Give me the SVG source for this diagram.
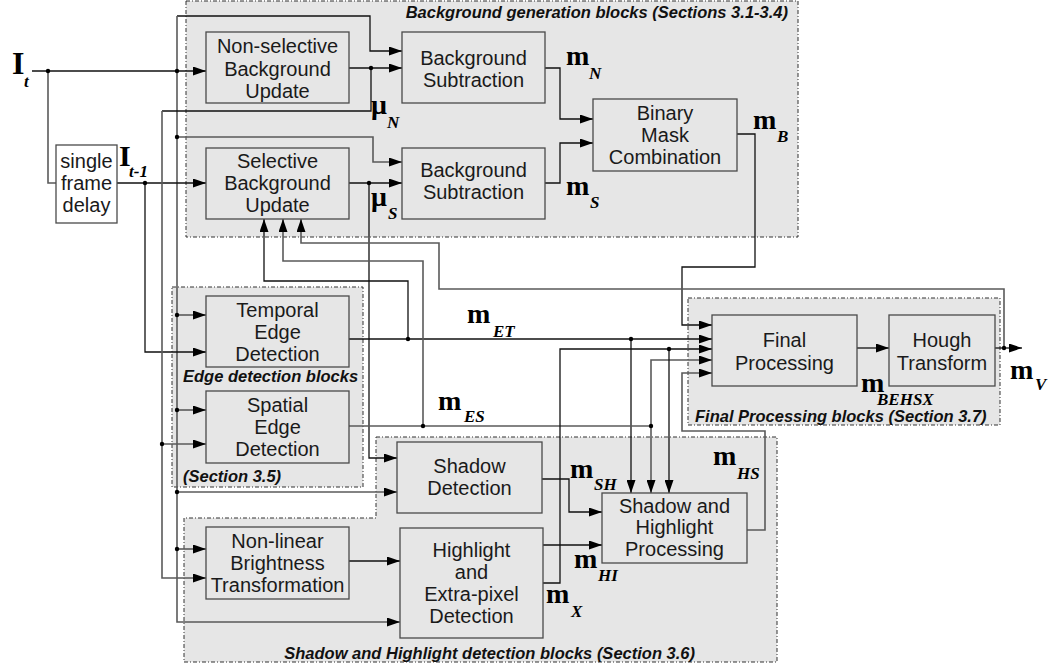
<svg xmlns="http://www.w3.org/2000/svg" width="1061" height="670" viewBox="0 0 1061 670">
<defs>
<marker id="ar" viewBox="0 0 13 9" refX="13" refY="4.5" markerWidth="13" markerHeight="9" markerUnits="userSpaceOnUse" orient="auto">
<path d="M0,0 L13,4.5 L0,9 z" fill="#000"/>
</marker>
<style>
.grp{fill:#e6e6e6;stroke:#333;stroke-width:1;stroke-dasharray:4 2 1 2}
.box{fill:#e6e6e6;stroke:#4a4a4a;stroke-width:1.3}
.lbl{font-family:"Liberation Sans",Arial,sans-serif;font-size:20px;text-anchor:middle;fill:#1a1a1a}
.glbl{font-family:"Liberation Sans",Arial,sans-serif;font-size:16.5px;font-weight:bold;font-style:italic;fill:#111}
.math{font-family:"Liberation Serif","Times New Roman",serif;font-weight:bold;font-size:28px;fill:#000}
.sub{font-size:17px;font-style:italic}
.k{fill:none;stroke:#111;stroke-width:1.3}
.g{fill:none;stroke:#5a5a5a;stroke-width:1.6}
.dot{fill:#000}
</style>
</defs>
<rect width="1061" height="670" fill="#fff"/>

<g id="groups">
<rect class="grp" x="186" y="1" width="612" height="236"/>
<text class="glbl" x="788" y="18" text-anchor="end">Background generation blocks (Sections 3.1-3.4)</text>
<rect class="grp" x="172" y="287" width="191" height="200"/>
<text class="glbl" x="183" y="382">Edge detection blocks</text>
<text class="glbl" x="183" y="482">(Section 3.5)</text>
<path class="grp" d="M376,437 H777 V662 H184 V518 H376 Z"/>
<text class="glbl" x="695" y="659" text-anchor="end">Shadow and Highlight detection blocks (Section 3.6)</text>
<rect class="grp" x="688" y="298" width="312" height="127"/>
<text class="glbl" x="695" y="422">Final Processing blocks (Section 3.7)</text>
</g>

<g id="connectors">
<path class="k" d="M32,71 H206" marker-end="url(#ar)"/>
<path class="g" d="M48,71 V183 H56"/>
<path class="k" d="M177,16 H370 V51 H402" marker-end="url(#ar)"/>
<path class="g" d="M177,16 V622 H400" marker-end="url(#ar)"/>
<path class="g" d="M177,137 H373 V162 H402" marker-end="url(#ar)"/>
<path class="g" d="M177,315 H206" marker-end="url(#ar)"/>
<path class="g" d="M177,410 H206" marker-end="url(#ar)"/>
<path class="g" d="M177,492 H397" marker-end="url(#ar)"/>
<path class="g" d="M177,549 H206" marker-end="url(#ar)"/>
<path class="k" d="M117,183 H206" marker-end="url(#ar)"/>
<path class="k" d="M145,183 V352 H206" marker-end="url(#ar)"/>
<path class="k" d="M349,68 H402" marker-end="url(#ar)"/>
<path class="k" d="M371,68 V111 H162"/>
<path class="g" d="M162,111 V578 H206" marker-end="url(#ar)"/>
<path class="g" d="M162,444 H206" marker-end="url(#ar)"/>
<path class="k" d="M349,183 H402" marker-end="url(#ar)"/>
<path class="k" d="M369,183 V458 H397" marker-end="url(#ar)"/>
<path class="k" d="M545,68 H560 V119 H593" marker-end="url(#ar)"/>
<path class="k" d="M545,183 H560 V143 H593" marker-end="url(#ar)"/>
<path class="k" d="M737,134 H755 V267 H682 V325 H712" marker-end="url(#ar)"/>
<path class="k" d="M349,339 H712" marker-end="url(#ar)"/>
<path class="k" d="M408,339 V281 H264 V219" marker-end="url(#ar)"/>
<path class="k" d="M631,339 V493" marker-end="url(#ar)"/>
<path class="g" d="M349,426 H651"/>
<path class="g" d="M423,426 V261 H283 V219" marker-end="url(#ar)"/>
<path class="g" d="M651,426 V360 H712" marker-end="url(#ar)"/>
<path class="g" d="M651,426 V493" marker-end="url(#ar)"/>
<path class="k" d="M543,583 H560 V349 H712" marker-end="url(#ar)"/>
<path class="k" d="M669,349 V493" marker-end="url(#ar)"/>
<path class="k" d="M349,561 H400" marker-end="url(#ar)"/>
<path class="k" d="M542,479 H569 V512 H602" marker-end="url(#ar)"/>
<path class="k" d="M543,545 H602" marker-end="url(#ar)"/>
<path class="g" d="M747,530 H765 V431 H682 V373 H712" marker-end="url(#ar)"/>
<path class="k" d="M857,348 H889" marker-end="url(#ar)"/>
<path class="k" d="M995,348 H1022" marker-end="url(#ar)"/>
<path class="g" d="M1004,348 V289 H439 V243 H301 V219" marker-end="url(#ar)"/>
<g class="dot">
<circle cx="48" cy="71" r="2.2"/><circle cx="177" cy="71" r="2.2"/><circle cx="177" cy="137" r="2.2"/>
<circle cx="177" cy="315" r="2.2"/><circle cx="177" cy="410" r="2.2"/><circle cx="177" cy="492" r="2.2"/>
<circle cx="177" cy="549" r="2.2"/><circle cx="145" cy="183" r="2.2"/><circle cx="371" cy="68" r="2.2"/>
<circle cx="162" cy="444" r="2.2"/><circle cx="369" cy="183" r="2.2"/><circle cx="408" cy="339" r="2.2"/>
<circle cx="631" cy="339" r="2.2"/><circle cx="423" cy="426" r="2.2"/><circle cx="651" cy="426" r="2.2"/>
<circle cx="669" cy="349" r="2.2"/><circle cx="1004" cy="348" r="2.2"/>
</g>
</g>

<g id="n-delay"><rect class="box" x="56" y="145" width="61" height="78" style="fill:#fff"/>
<text class="lbl" x="86.5" y="168">single</text><text class="lbl" x="86.5" y="190">frame</text><text class="lbl" x="86.5" y="212">delay</text></g>
<g id="n-nsbu"><rect class="box" x="206" y="32" width="143" height="71"/>
<text class="lbl" x="277.5" y="53">Non-selective</text><text class="lbl" x="277.5" y="76">Background</text><text class="lbl" x="277.5" y="98">Update</text></g>
<g id="n-sbu"><rect class="box" x="206" y="148" width="143" height="71"/>
<text class="lbl" x="277.5" y="168">Selective</text><text class="lbl" x="277.5" y="190">Background</text><text class="lbl" x="277.5" y="212">Update</text></g>
<g id="n-bs1"><rect class="box" x="402" y="32" width="143" height="71"/>
<text class="lbl" x="473.5" y="65">Background</text><text class="lbl" x="473.5" y="87">Subtraction</text></g>
<g id="n-bs2"><rect class="box" x="402" y="148" width="143" height="71"/>
<text class="lbl" x="473.5" y="177">Background</text><text class="lbl" x="473.5" y="199">Subtraction</text></g>
<g id="n-bmc"><rect class="box" x="593" y="99" width="144" height="72"/>
<text class="lbl" x="665" y="120">Binary</text><text class="lbl" x="665" y="142">Mask</text><text class="lbl" x="665" y="164">Combination</text></g>
<g id="n-ted"><rect class="box" x="206" y="296" width="143" height="71"/>
<text class="lbl" x="277.5" y="317">Temporal</text><text class="lbl" x="277.5" y="339">Edge</text><text class="lbl" x="277.5" y="361">Detection</text></g>
<g id="n-sed"><rect class="box" x="206" y="391" width="143" height="72"/>
<text class="lbl" x="277.5" y="412">Spatial</text><text class="lbl" x="277.5" y="434">Edge</text><text class="lbl" x="277.5" y="456">Detection</text></g>
<g id="n-sd"><rect class="box" x="397" y="442" width="145" height="71"/>
<text class="lbl" x="469.5" y="473">Shadow</text><text class="lbl" x="469.5" y="495">Detection</text></g>
<g id="n-nlbt"><rect class="box" x="206" y="527" width="143" height="72"/>
<text class="lbl" x="277.5" y="548">Non-linear</text><text class="lbl" x="277.5" y="570">Brightness</text><text class="lbl" x="277.5" y="592">Transformation</text></g>
<g id="n-hed"><rect class="box" x="400" y="528" width="143" height="110"/>
<text class="lbl" x="471.5" y="557">Highlight</text><text class="lbl" x="471.5" y="579">and</text><text class="lbl" x="471.5" y="601">Extra-pixel</text><text class="lbl" x="471.5" y="623">Detection</text></g>
<g id="n-shp"><rect class="box" x="602" y="493" width="145" height="70"/>
<text class="lbl" x="674.5" y="513">Shadow and</text><text class="lbl" x="674.5" y="534">Highlight</text><text class="lbl" x="674.5" y="556">Processing</text></g>
<g id="n-fp"><rect class="box" x="712" y="315" width="145" height="71"/>
<text class="lbl" x="784.5" y="347">Final</text><text class="lbl" x="784.5" y="370">Processing</text></g>
<g id="n-ht"><rect class="box" x="889" y="315" width="106" height="71"/>
<text class="lbl" x="942" y="347">Hough</text><text class="lbl" x="942" y="370">Transform</text></g>

<g id="labels">
<text class="math" x="12" y="74" style="font-size:32px">I<tspan class="sub" x="24" y="87">t</tspan></text>
<text class="math" x="119" y="166" style="font-size:30px">I<tspan class="sub" x="129" y="177">t-1</tspan></text>
<text class="math" x="566" y="65">m<tspan class="sub" x="589" y="79">N</tspan></text>
<text class="math" x="566" y="195">m<tspan class="sub" x="590" y="208">S</tspan></text>
<text class="math" x="753" y="129">m<tspan class="sub" x="777" y="142">B</tspan></text>
<text class="math" x="371" y="114">μ<tspan class="sub" x="387" y="128">N</tspan></text>
<text class="math" x="371" y="206">μ<tspan class="sub" x="388" y="219">S</tspan></text>
<text class="math" x="467" y="323">m<tspan class="sub" x="493" y="337">ET</tspan></text>
<text class="math" x="438" y="410">m<tspan class="sub" x="464" y="422">ES</tspan></text>
<text class="math" x="570" y="478">m<tspan class="sub" x="594" y="490">SH</tspan></text>
<text class="math" x="574" y="568">m<tspan class="sub" x="598" y="581">HI</tspan></text>
<text class="math" x="546" y="603">m<tspan class="sub" x="571" y="617">X</tspan></text>
<text class="math" x="713" y="465">m<tspan class="sub" x="737" y="479">HS</tspan></text>
<text class="math" x="861" y="392">m<tspan class="sub" x="877" y="405">BEHSX</tspan></text>
<text class="math" x="1010" y="379">m<tspan class="sub" x="1035" y="390">V</tspan></text>
</g>
</svg>
